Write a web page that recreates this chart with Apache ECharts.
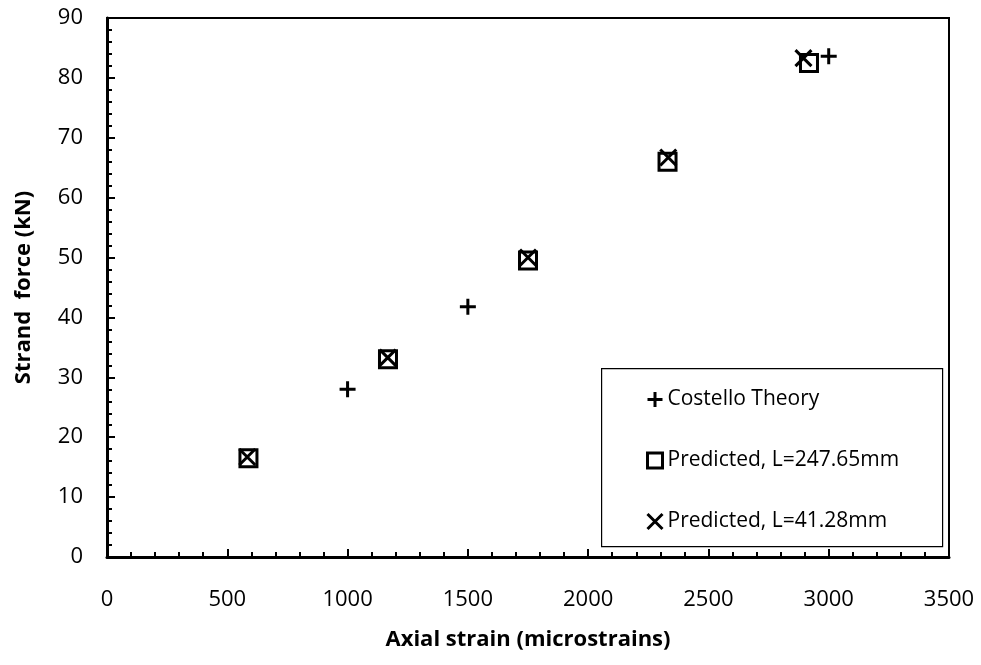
<!DOCTYPE html>
<html>
<head>
<meta charset="utf-8">
<script src="https://cdn.jsdelivr.net/npm/echarts@6/dist/echarts.min.js"></script>
<style>
  html, body { margin: 0; padding: 0; background: #fff; }
  #chart { width: 981px; height: 665px; }
</style>
</head>
<body>
<div id="chart"></div>
<script>
// Costello theory points
var costelloStrain = [1000, 1500, 3000];
var costelloForce = [28, 41.8, 83.6];
// Predicted, L=247.65mm
var longStrain = [588, 1168, 1750, 2330, 2918];
var longForce = [16.5, 33, 49.5, 66, 82.5];
// Predicted, L=41.28mm
var shortStrain = [583, 1167, 1750, 2333, 2895];
var shortForce = [16.7, 33.3, 50, 66.7, 83.3];

var xTicks = [0, 500, 1000, 1500, 2000, 2500, 3000, 3500];
var yTicks = [0, 10, 20, 30, 40, 50, 60, 70, 80, 90];

function pairs(xs, ys) {
  return xs.map(function (x, i) { return [x, ys[i]]; });
}

var FONT = 'Open Sans';
var plusPath = 'path://M10,0L10,20M0,10L20,10';
var crossPath = 'path://M0,0L20,20M20,0L0,20';

var myChart = echarts.init(document.getElementById('chart'));
myChart.setOption({
  animation: false,
  backgroundColor: '#fff',
  grid: {
    left: 107,
    top: 18,
    right: 32,
    bottom: 108,
    show: true,
    borderColor: '#000',
    borderWidth: 2
  },
  legend: {
    orient: 'vertical',
    left: 641,
    top: 384,
    itemGap: 40,
    itemWidth: 15,
    itemHeight: 15,
    itemStyle: { borderWidth: 3, borderColor: '#000', opacity: 1 },
    textStyle: { color: '#000', fontFamily: FONT, fontSize: 21 },
    data: ['Costello Theory', 'Predicted, L=247.65mm', 'Predicted, L=41.28mm']
  },
  graphic: [{
    type: 'rect',
    left: 601,
    top: 368,
    shape: { width: 341, height: 178 },
    style: { fill: '#fff', stroke: '#000', lineWidth: 1.2 },
    z: 3
  }],
  xAxis: {
    type: 'value',
    min: 0,
    max: 3500,
    interval: 500,
    name: 'Axial strain (microstrains)',
    nameLocation: 'middle',
    nameGap: 72,
    nameTextStyle: { color: '#000', fontFamily: FONT, fontSize: 22, fontWeight: 'bold' },
    axisLine: { show: true, onZero: false, lineStyle: { color: '#000', width: 3 } },
    axisTick: { show: true, inside: true, length: 8, lineStyle: { color: '#000', width: 2 } },
    minorTick: { show: true, splitNumber: 5, length: 5, lineStyle: { color: '#000', width: 2 } },
    splitLine: { show: false },
    axisLabel: {
      color: '#000', fontFamily: FONT, fontSize: 22, margin: 32,
      formatter: function (v) { return xTicks.indexOf(v) >= 0 ? String(v) : ''; }
    }
  },
  yAxis: {
    type: 'value',
    min: 0,
    max: 90,
    interval: 10,
    name: 'Strand  force (kN)',
    nameLocation: 'middle',
    nameGap: 72,
    nameTextStyle: { color: '#000', fontFamily: FONT, fontSize: 22, fontWeight: 'bold' },
    axisLine: { show: true, onZero: false, lineStyle: { color: '#000', width: 3 } },
    axisTick: { show: true, inside: true, length: 8, lineStyle: { color: '#000', width: 2 } },
    minorTick: { show: true, splitNumber: 5, length: 5, lineStyle: { color: '#000', width: 2 } },
    splitLine: { show: false },
    axisLabel: {
      color: '#000', fontFamily: FONT, fontSize: 22, margin: 24,
      formatter: function (v) { return yTicks.indexOf(v) >= 0 ? String(v) : ''; }
    }
  },
  series: [
    {
      name: 'Costello Theory',
      type: 'scatter',
      symbol: plusPath,
      symbolSize: 16,
      data: pairs(costelloStrain, costelloForce),
      itemStyle: { color: 'rgba(0,0,0,0)', borderColor: '#000', borderWidth: 3, opacity: 1 },
      z: 5
    },
    {
      name: 'Predicted, L=247.65mm',
      type: 'scatter',
      symbol: 'rect',
      symbolSize: 17,
      data: pairs(longStrain, longForce),
      itemStyle: { color: 'rgba(255,255,255,0)', borderColor: '#000', borderWidth: 3, opacity: 1 },
      z: 5
    },
    {
      name: 'Predicted, L=41.28mm',
      type: 'scatter',
      symbol: crossPath,
      symbolSize: 16,
      data: pairs(shortStrain, shortForce),
      itemStyle: { color: 'rgba(0,0,0,0)', borderColor: '#000', borderWidth: 3, opacity: 1 },
      z: 6
    }
  ]
});
</script>
</body>
</html>
